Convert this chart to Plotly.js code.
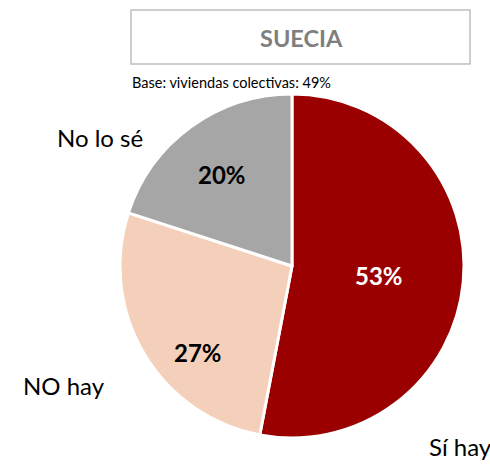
<!DOCTYPE html>
<html><head><meta charset="utf-8">
<script src="https://cdn.plot.ly/plotly-3.0.1.min.js"></script>
<style>html,body{margin:0;padding:0;background:#fff}#chart{width:490px;height:466px}</style>
</head><body><div id="chart"></div>
<script>
const categories = ["Sí hay", "NO hay", "No lo sé"];
const values = [53, 27, 20];
const colors = ["#9a0000", "#f4d0bb", "#a6a6a6"];
const textColors = ["#ffffff", "#000000", "#000000"];
const title = "SUECIA";
const subtitle = "Base: viviendas colectivas: 49%";

const W = 490, H = 466;
const FONT = "Lato, 'Open Sans', sans-serif";

// pie geometry (pixels)
const cx = 292, cy = 266, R = 172;

// label placement styles: radial fraction and angular nudge (deg) per slice
const pctRadius = [0.51, 0.74, 0.67];
const pctNudge = [1, -12, -1.5];

const trace = {
  type: "pie",
  labels: categories,
  values: values,
  sort: false,
  direction: "clockwise",
  rotation: 0,
  marker: {colors: colors, line: {color: "#ffffff", width: 3}},
  textinfo: "none",
  hoverinfo: "none",
  showlegend: false,
  domain: {x: [(cx - R) / W, (cx + R) / W], y: [1 - (cy + R) / H, 1 - (cy - R) / H]}
};

const total = values.reduce((a, b) => a + b, 0);
const annotations = [];
let cum = 0;
values.forEach((v, i) => {
  const mid = (cum + v / 2) / total * 360 + pctNudge[i];
  cum += v;
  const a = mid * Math.PI / 180;
  const px = cx + pctRadius[i] * R * Math.sin(a);
  const py = cy - pctRadius[i] * R * Math.cos(a);
  annotations.push({
    text: "<b>" + v + "%</b>", xref: "paper", yref: "paper",
    x: px / W, y: 1 - py / H, xanchor: "center", yanchor: "middle",
    showarrow: false, font: {family: FONT, size: 24, color: textColors[i]}
  });
});

const labelPos = [[428, 446, "left"], [64, 385, "center"], [100, 137, "center"]];
categories.forEach((c, i) => {
  annotations.push({
    text: c, xref: "paper", yref: "paper",
    x: labelPos[i][0] / W, y: 1 - labelPos[i][1] / H,
    xanchor: labelPos[i][2], yanchor: "middle", showarrow: false,
    borderpad: 0,
    font: {family: FONT, size: 24, color: "#000"}
  });
});
annotations.push({
  text: "<b>" + title + "</b>", xref: "paper", yref: "paper",
  x: 301 / W, y: 1 - 38 / H, xanchor: "center", yanchor: "middle",
  showarrow: false, font: {family: FONT, size: 23.5, color: "#7f7f7f"}
});
annotations.push({
  text: subtitle, xref: "paper", yref: "paper",
  x: 130 / W, y: 1 - 83 / H, xanchor: "left", yanchor: "middle",
  showarrow: false, font: {family: FONT, size: 14.5, color: "#000"}
});

const layout = {
  width: W, height: H,
  margin: {l: 0, r: 0, t: 0, b: 0},
  paper_bgcolor: "#ffffff",
  annotations: annotations,
  shapes: [{type: "rect", xref: "paper", yref: "paper",
    x0: 131 / W, x1: 470 / W, y0: 1 - 64 / H, y1: 1 - 10 / H,
    line: {color: "#bfbfbf", width: 1.5}, fillcolor: "rgba(0,0,0,0)"}]
};

Plotly.newPlot("chart", [trace], layout, {displayModeBar: false, staticPlot: true});
</script></body></html>
